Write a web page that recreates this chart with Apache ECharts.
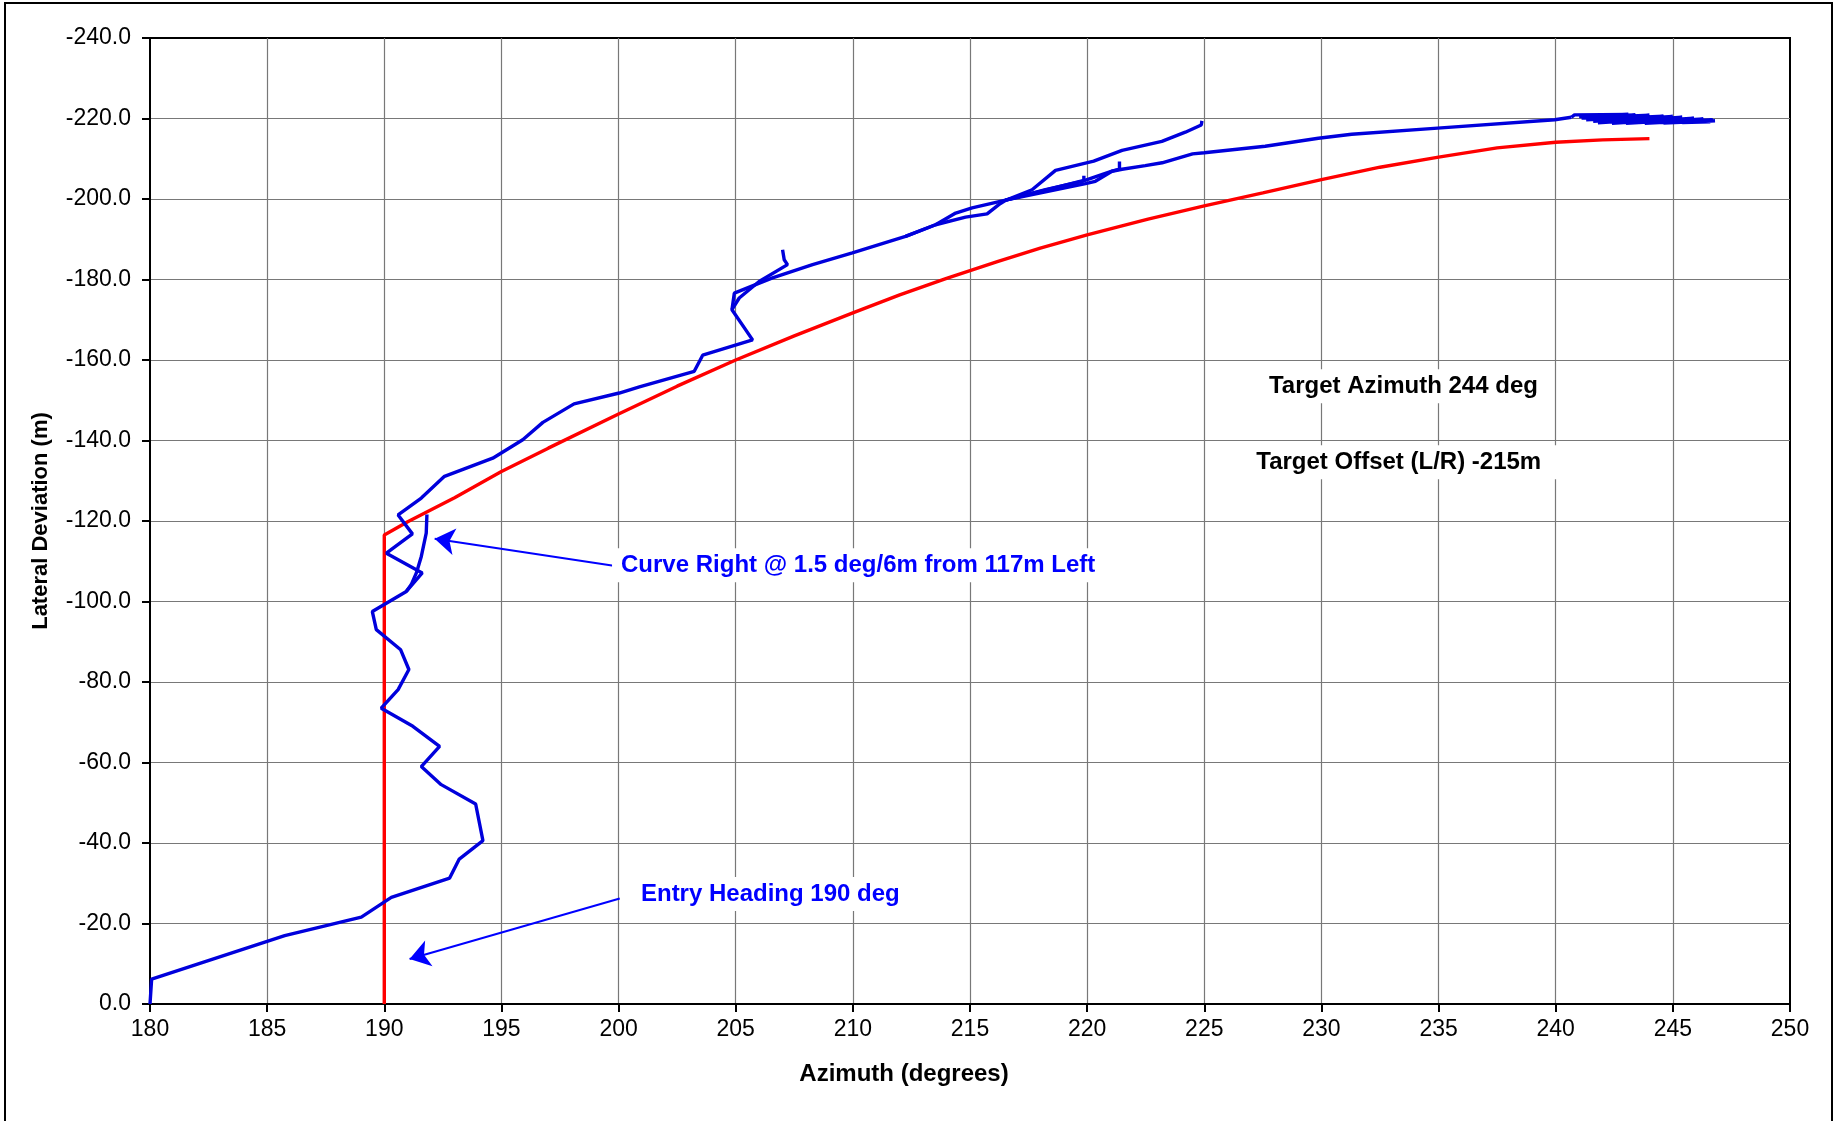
<!DOCTYPE html>
<html>
<head>
<meta charset="utf-8">
<title>Azimuth vs Lateral Deviation</title>
<script src="https://cdn.jsdelivr.net/npm/echarts/dist/echarts.min.js"></script>
<style>
  html, body { margin: 0; padding: 0; background: #ffffff; }
  #chart { width: 1835px; height: 1121px; }
</style>
</head>
<body>
<div id="chart"></div>
<script>
// Planned curve: azimuth (deg) vs lateral deviation (m)
const plannedPath = [
  [190, 0], [190, -116.5], [191, -119.8], [193, -125.8], [195, -132.3], [197, -138.1],
  [200, -146.6], [202.5, -153.5], [205, -160.0], [207.5, -166.0], [210, -171.7],
  [212, -176.2], [214, -180.3], [216.2, -184.5], [218, -187.8], [220, -191.1],
  [222.6, -195.0], [225, -198.3], [227.5, -201.5], [230, -204.8], [232.5, -207.9],
  [235, -210.4], [237.5, -212.7], [240, -214.1], [242, -214.7], [244, -215.0]
];

// Surveyed bore, main pass from entry to target
const surveyMain = [
  [180.0, 0], [180.07, -6.2], [185.75, -17.0], [189.02, -21.6], [190.3, -26.5],
  [192.79, -31.3], [193.2, -36.0], [194.21, -40.6], [193.9, -49.7], [192.43, -54.5],
  [191.58, -59.0], [192.36, -64.0], [191.22, -69.0], [189.87, -73.5], [190.59, -78.1],
  [191.05, -83.1], [190.7, -88.0], [189.66, -93.0], [189.49, -97.5], [190.94, -102.5],
  [191.62, -107.1], [190.09, -112.0], [191.2, -116.8], [190.59, -121.5], [191.58, -125.7],
  [192.57, -131.1], [194.63, -135.6], [195.91, -140.2], [196.77, -144.5], [198.1, -149.1],
  [200.03, -151.8], [200.89, -153.3], [203.23, -157.2], [203.59, -161.2], [205.72, -165.0],
  [204.84, -172.5], [204.94, -176.6], [206.57, -180.4], [208.28, -183.7], [209.98, -186.6],
  [212.25, -190.7], [213.53, -193.6], [214.81, -195.5], [215.73, -196.3], [216.23, -198.6],
  [216.52, -199.7], [218.22, -202.3], [219.78, -204.4], [221.06, -206.9], [221.49, -207.4],
  [222.48, -208.3], [223.2, -209.0], [224.5, -211.2], [225.0, -211.5], [227.6, -213.1],
  [229.87, -215.1], [231.29, -216.1], [234.96, -217.6], [239.96, -219.7], [240.67, -220.3]
];

// Stations logged while holding at the target end
const surveyTargetEnd = [
  [240.67, -220.3], [240.8, -220.9], [243.1, -221.0], [241.0, -220.5], [243.4, -220.9],
  [241.1, -220.1], [244.0, -220.8], [241.3, -219.7], [244.6, -220.6], [241.6, -219.3],
  [245.0, -220.5], [241.8, -218.9], [245.4, -220.3], [242.4, -218.8], [245.9, -220.1],
  [243.0, -218.8], [246.3, -219.9], [243.8, -218.8], [246.7, -219.7], [244.6, -218.9],
  [246.8, -219.4], [245.4, -219.0], [246.6, -219.2]
];

// Re-surveyed sections
const passCurveStart = [
  [190.94, -102.5], [191.15, -104.2], [191.37, -107.1], [191.58, -111.2], [191.79, -117.0], [191.82, -121.6]
];
const pass207 = [
  [204.84, -172.5], [205.15, -175.4], [206.0, -179.5], [207.21, -183.7], [207.07, -184.9], [207.0, -187.4]
];
const passLoop = [
  [212.25, -190.7], [213.53, -193.6], [214.39, -196.5], [215.09, -197.8], [216.52, -199.7]
];
const passUpper = [
  [216.52, -199.7], [217.65, -202.3], [218.65, -207.1], [220.28, -209.4], [221.49, -212.1],
  [223.19, -214.3], [224.19, -216.6], [224.87, -218.4], [224.9, -219.4]
];
const pass221 = [
  [216.52, -199.7], [219.93, -203.8], [220.35, -204.4], [221.06, -206.9], [221.38, -207.4], [221.38, -209.3]
];
const pass220 = [
  [216.52, -199.7], [219.86, -204.6], [219.86, -205.8]
];

// Annotations
const noteText = ['Curve Right @ 1.5 deg/6m from 117m Left', 'Entry Heading 190 deg'];
const notePos = [[199.7, -109.0], [200.55, -27.3]];
const noteArrows = [
  [[200.0, -108.7], [192.15, -115.6]],
  [[200.05, -26.2], [191.08, -11.2]]
];
const targetText = ['Target Azimuth 244 deg', 'Target Offset (L/R) -215m'];
const targetPos = [[233.5, -153.5], [233.3, -134.6]];

const FONT = '"Liberation Sans", Arial, sans-serif';
const BLUE = '#0000dc';
const NOTE_BLUE = '#0000ff';

const surveyPasses = [surveyMain, surveyTargetEnd, passCurveStart, pass207, passLoop, passUpper, pass221, pass220];

function lineSeries(data, color, z) {
  return {
    type: 'line',
    data: data,
    symbol: 'none',
    showSymbol: false,
    lineStyle: { color: color, width: 3.4 },
    itemStyle: { color: color },
    z: z,
    silent: true
  };
}

// Text-only markers: an invisible point carrying a boxed label
function noteSeries(pos, texts, color, labelOpts) {
  return {
    type: 'scatter',
    data: pos.map((p, i) => ({ value: p, name: texts[i] })),
    symbolSize: 1,
    itemStyle: { color: 'rgba(0,0,0,0)', opacity: 1 },
    label: Object.assign({
      show: true, formatter: '{b}', opacity: 1,
      color: color, fontFamily: FONT, fontWeight: 'bold', fontSize: 24,
      backgroundColor: '#ffffff'
    }, labelOpts),
    silent: true,
    z: 6
  };
}

const series = [lineSeries(plannedPath, '#ff0000', 3)];
surveyPasses.forEach(p => series.push(lineSeries(p, BLUE, 4)));

series.push({
  type: 'lines',
  coordinateSystem: 'cartesian2d',
  data: noteArrows.map(a => ({ coords: a })),
  symbol: ['none', 'arrow'],
  symbolSize: [8, 20],
  lineStyle: { color: NOTE_BLUE, width: 2, opacity: 1, curveness: 0 },
  silent: true,
  z: 5
});

series.push(noteSeries(notePos, noteText, NOTE_BLUE, { position: 'right', distance: 0, padding: [5, 9] }));
series.push(noteSeries(targetPos, targetText, '#000000', { position: 'inside', padding: [5, 16] }));

const chart = echarts.init(document.getElementById('chart'), null, { renderer: 'canvas' });
chart.setOption({
  animation: false,
  backgroundColor: '#ffffff',
  grid: {
    left: 150, right: 45, top: 38, bottom: 117,
    show: true, borderColor: '#000000', borderWidth: 2, backgroundColor: 'transparent'
  },
  xAxis: {
    type: 'value', min: 180, max: 250, interval: 5,
    name: 'Azimuth (degrees)', nameLocation: 'middle', nameGap: 58,
    nameTextStyle: { fontFamily: FONT, fontWeight: 'bold', fontSize: 24, color: '#000', padding: [0, 132, 0, 0] },
    axisLine: { show: true, onZero: false, lineStyle: { color: '#000', width: 2 } },
    axisTick: { show: true, length: 8, lineStyle: { color: '#000', width: 2 } },
    axisLabel: { fontFamily: FONT, fontSize: 23, color: '#000', margin: 14 },
    splitLine: { show: true, showMinLine: false, showMaxLine: false, lineStyle: { color: '#787878', width: 1.2 } }
  },
  yAxis: {
    type: 'value', min: -240, max: 0, interval: 20, inverse: true,
    name: 'Lateral Deviation (m)', nameLocation: 'middle', nameGap: 98,
    nameTextStyle: { fontFamily: FONT, fontWeight: 'bold', fontSize: 22, color: '#000' },
    axisLine: { show: true, onZero: false, lineStyle: { color: '#000', width: 2 } },
    axisTick: { show: true, length: 8, lineStyle: { color: '#000', width: 2 } },
    axisLabel: { fontFamily: FONT, fontSize: 23, color: '#000', margin: 19, formatter: v => v.toFixed(1) },
    splitLine: { show: true, showMinLine: false, showMaxLine: false, lineStyle: { color: '#787878', width: 1.2 } }
  },
  graphic: [{
    type: 'rect', silent: true, z: 0,
    shape: { x: 5, y: 3, width: 1827, height: 1140 },
    style: { fill: 'none', stroke: '#000000', lineWidth: 2 }
  }],
  series: series
});
</script>
</body>
</html>
